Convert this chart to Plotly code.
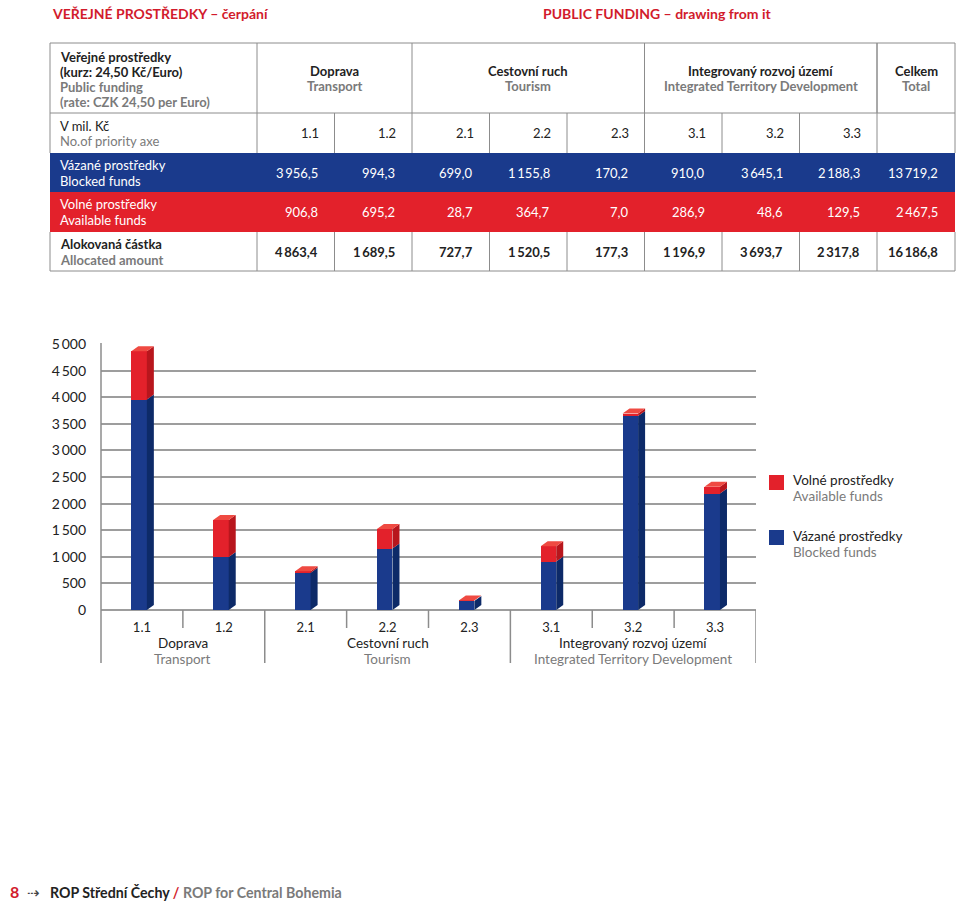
import numpy as np
import plotly.graph_objects as go

# ---------------- data ----------------
priority = ["1.1", "1.2", "2.1", "2.2", "2.3", "3.1", "3.2", "3.3"]
group_cz = ["Doprava", "Cestovní ruch", "Integrovaný rozvoj území"]
group_en = ["Transport", "Tourism", "Integrated Territory Development"]
group_sizes = [2, 3, 3]
blocked = [3956.5, 994.3, 699.0, 1155.8, 170.2, 910.0, 3645.1, 2188.3]
available = [906.8, 695.2, 28.7, 364.7, 7.0, 286.9, 48.6, 129.5]
allocated = [4863.4, 1689.5, 727.7, 1520.5, 177.3, 1196.9, 3693.7, 2317.8]
total_blocked = 13719.2
total_available = 2467.5
total_allocated = 16186.8
y_ticks = [0, 500, 1000, 1500, 2000, 2500, 3000, 3500, 4000, 4500, 5000]

# ---------------- style ----------------
W, H = 960, 904
RED = "#e3212b"
RED_SIDE = "#b8161d"
RED_TOP = "#ef4a42"
BLUE = "#1a3a8c"
BLUE_SIDE = "#0d2a68"
TITLE_RED = "#d21b2c"
DARK = "#222222"
GRAY = "#7a7a7a"
LINE = "#8c8c8c"
FONT = "Lato"


def px(x):
    return x / W


def py(y):
    return 1 - y / H


def fmt(v):
    s = f"{v:,.1f}"
    return s.replace(",", "\u2009").replace(".", ",")


def tick_fmt(v):
    return f"{v:,}".replace(",", "\u2009")


annotations = []
shapes = []


def ann(text, x, y, size=13, color=DARK, bold=False, xanchor="left", xref="paper"):
    if bold:
        text = f"<b>{text}</b>"
    annotations.append(dict(
        text=text, x=x if xref == "x" else px(x), y=py(y), xref=xref, yref="paper",
        xanchor=xanchor, yanchor="middle", showarrow=False,
        font=dict(family=FONT, size=size, color=color)))


def line(x0, y0, x1, y1, color=LINE, width=1, xref="paper"):
    shapes.append(dict(
        type="line", xref=xref, yref="paper",
        x0=x0 if xref == "x" else px(x0), x1=x1 if xref == "x" else px(x1),
        y0=py(y0), y1=py(y1), line=dict(color=color, width=width)))


def rect(x0, y0, x1, y1, fill, layer="below"):
    shapes.append(dict(
        type="rect", xref="paper", yref="paper",
        x0=px(x0), x1=px(x1), y0=py(y0), y1=py(y1),
        fillcolor=fill, line=dict(width=0), layer=layer))


# ---------------- titles ----------------
ann("VEŘEJNÉ PROSTŘEDKY – čerpání", 50, 14, size=14, color=TITLE_RED, bold=True)
ann("PUBLIC FUNDING – drawing from it", 541, 14, size=14, color=TITLE_RED, bold=True)

# ---------------- table ----------------
TL, TR = 50, 955
cols = [257, 334.5, 412, 489.5, 567, 644.5, 722, 799.5, 877, 955]
Y_TOP, Y_HEAD, Y_PRI, Y_BLUE, Y_RED, Y_BOT = 43, 113, 153, 192, 232, 271

rect(TL, Y_PRI, TR, Y_BLUE, BLUE)
rect(TL, Y_BLUE, TR, Y_RED, RED)

line(TL, Y_TOP, TR, Y_TOP)
line(TL, Y_HEAD, TR, Y_HEAD)
line(TL, Y_BOT, TR, Y_BOT)
line(TL, Y_TOP, TL, Y_PRI)
line(TR, Y_TOP, TR, Y_PRI)
line(TL, Y_RED, TL, Y_BOT)
line(TR, Y_RED, TR, Y_BOT)
group_edges = [0]
for g in group_sizes:
    group_edges.append(group_edges[-1] + g)
for e in group_edges:
    line(cols[e], Y_TOP, cols[e], Y_HEAD)
line(cols[8], Y_TOP, cols[8], Y_HEAD)
for c in cols[:-1]:
    line(c, Y_HEAD, c, Y_PRI)
    line(c, Y_RED, c, Y_BOT)

ann("Veřejné prostředky", 58, 57, bold=True)
ann("(kurz: 24,50 Kč/Euro)", 58, 72, bold=True)
ann("Public funding", 58, 87, color=GRAY, bold=True)
ann("(rate: CZK 24,50 per Euro)", 58, 102, color=GRAY, bold=True)

for gi in range(len(group_sizes)):
    xc = (cols[group_edges[gi]] + cols[group_edges[gi + 1]]) / 2
    ann(group_cz[gi], xc, 71, bold=True, xanchor="center")
    ann(group_en[gi], xc, 86, color=GRAY, bold=True, xanchor="center")
ann("Celkem", (cols[8] + cols[9]) / 2, 71, bold=True, xanchor="center")
ann("Total", (cols[8] + cols[9]) / 2, 86, color=GRAY, bold=True, xanchor="center")

ann("V mil. Kč", 58, 126)
ann("No.of priority axe", 58, 141, color=GRAY)
ann("Vázané prostředky", 58, 165, color="white")
ann("Blocked funds", 58, 181, color="white")
ann("Volné prostředky", 58, 204, color="white")
ann("Available funds", 58, 220, color="white")
ann("Alokovaná částka", 58, 244, bold=True)
ann("Allocated amount", 58, 260, color=GRAY, bold=True)

for i, p in enumerate(priority):
    ann(p, cols[i + 1] - 14, 133, xanchor="right")
    ann(fmt(blocked[i]), cols[i + 1] - 15, 173, color="white", xanchor="right")
    ann(fmt(available[i]), cols[i + 1] - 15, 212, color="white", xanchor="right")
    ann(fmt(allocated[i]), cols[i + 1] - 15, 252, bold=True, xanchor="right")
ann(fmt(total_blocked), cols[9] - 15, 173, color="white", xanchor="right")
ann(fmt(total_available), cols[9] - 15, 212, color="white", xanchor="right")
ann(fmt(total_allocated), cols[9] - 15, 252, bold=True, xanchor="right")

# ---------------- chart ----------------
CX0, CX1 = 101, 756
CY0, CY1 = 610, 344  # pixel y of 0 and 5000
n = len(priority)
idx = np.arange(n)
shift = -0.035
hw = 0.095
xc = idx + shift
px_per_unit = (CX1 - CX0) / n
dx = 7 / px_per_unit
dy = 5 * 5000 / (CY0 - CY1)

fig = go.Figure()
fig.add_trace(go.Bar(x=xc, y=blocked, width=2 * hw, marker=dict(color=BLUE, line=dict(width=0)),
                     hoverinfo="skip", showlegend=False))
fig.add_trace(go.Bar(x=xc, y=available, width=2 * hw, marker=dict(color=RED, line=dict(width=0)),
                     hoverinfo="skip", showlegend=False))


def poly_trace(xs, ys, color):
    return go.Scatter(x=xs, y=ys, mode="lines", fill="toself", fillcolor=color,
                      line=dict(width=0, color=color), hoverinfo="skip", showlegend=False)


bx, by, rx, ry, tx, ty = [], [], [], [], [], []
for i in range(n):
    b = blocked[i]
    t = blocked[i] + available[i]
    r = xc[i] + hw
    l = xc[i] - hw
    bx += [r, r + dx, r + dx, r, r, None]
    by += [0, dy, b + dy, b, 0, None]
    rx += [r, r + dx, r + dx, r, r, None]
    ry += [b, b + dy, t + dy, t, b, None]
    tx += [l, l + dx, r + dx, r, l, None]
    ty += [t, t + dy, t + dy, t, t, None]
fig.add_trace(poly_trace(bx, by, BLUE_SIDE))
fig.add_trace(poly_trace(rx, ry, RED_SIDE))
fig.add_trace(poly_trace(tx, ty, RED_TOP))

line(CX0, 343, CX0, 663, color=LINE, width=1.5)
group_of = []
for gi, g in enumerate(group_sizes):
    group_of += [gi] * g
for i in range(n - 1):
    end = 628 if group_of[i] == group_of[i + 1] else 663
    line(i + 0.5, CY0, i + 0.5, end, color=LINE, width=1.5, xref="x")
line(n - 0.5, CY0, n - 0.5, 663, color=LINE, width=1.5, xref="x")

start = 0
for gi, g in enumerate(group_sizes):
    gc = start + (g - 1) / 2
    start += g
    ann(group_cz[gi], gc, 643, size=13.5, color=DARK, xanchor="center", xref="x")
    ann(group_en[gi], gc, 659, size=13.5, color=GRAY, xanchor="center", xref="x")

rect(769, 475, 784, 490, RED, layer="above")
rect(769, 530, 784, 545, BLUE, layer="above")
ann("Volné prostředky", 791, 480, size=13.5, color=DARK)
ann("Available funds", 791, 496, size=13.5, color=GRAY)
ann("Vázané prostředky", 791, 536, size=13.5, color=DARK)
ann("Blocked funds", 791, 552, size=13.5, color=GRAY)

ann("8", 8, 891, size=16, color=TITLE_RED, bold=True)
ann("⇢", 25, 892, size=15, color="#444444")
ann("ROP Střední Čechy <span style='color:%s'>/</span> <span style='color:%s'>ROP for Central Bohemia</span>"
    % (TITLE_RED, GRAY), 48, 892, size=14.2, color=DARK, bold=True)

fig.update_layout(
    width=W, height=H,
    margin=dict(l=0, r=0, t=0, b=0, autoexpand=False),
    paper_bgcolor="white", plot_bgcolor="white",
    barmode="stack", bargap=0,
    showlegend=False,
    font=dict(family=FONT, color=DARK),
    xaxis=dict(domain=[px(CX0), px(CX1)], range=[-0.5, n - 0.5],
               tickvals=idx, ticktext=priority, showgrid=False, zeroline=False,
               showline=False, ticks="", ticklabelstandoff=8,
               tickfont=dict(family=FONT, size=13, color=DARK), fixedrange=True),
    yaxis=dict(domain=[py(CY0), py(CY1)], range=[0, 5000],
               tickvals=y_ticks, ticktext=[tick_fmt(v) for v in y_ticks],
               showgrid=True, gridcolor="#9d9d9d", gridwidth=1.5,
               zeroline=True, zerolinecolor="#9d9d9d", zerolinewidth=1.5,
               showline=False, ticks="", ticklabelstandoff=14,
               tickfont=dict(family=FONT, size=14, color=DARK), fixedrange=True),
    annotations=annotations,
    shapes=shapes,
)

fig.write_html("out.html", config={"displayModeBar": False},
               post_script="document.body.style.margin='0';document.body.style.padding='0';")
